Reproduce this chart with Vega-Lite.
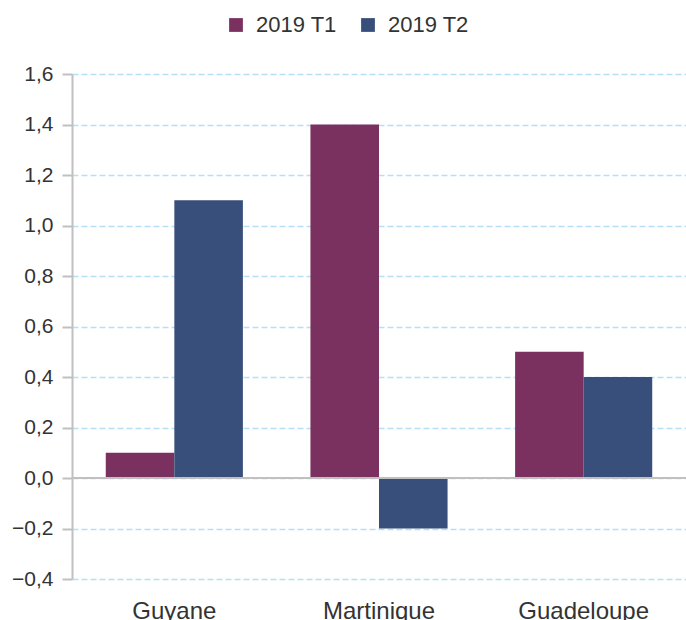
{
  "$schema": "https://vega.github.io/schema/vega-lite/v6.json",
  "width": 614,
  "height": 505,
  "autosize": {"type": "none"},
  "padding": {"left": 72, "top": 74, "right": 0, "bottom": 41},
  "background": "white",
  "config": {
    "view": {"stroke": null},
    "font": "Liberation Sans"
  },
  "data": {
    "values": [
      {"region": "Guyane", "period": "2019 T1", "value": 0.1},
      {"region": "Guyane", "period": "2019 T2", "value": 1.1},
      {"region": "Martinique", "period": "2019 T1", "value": 1.4},
      {"region": "Martinique", "period": "2019 T2", "value": -0.2},
      {"region": "Guadeloupe", "period": "2019 T1", "value": 0.5},
      {"region": "Guadeloupe", "period": "2019 T2", "value": 0.4}
    ]
  },
  "layer": [
    {
      "mark": {"type": "bar"},
      "encoding": {
        "x": {
          "field": "region",
          "type": "nominal",
          "sort": ["Guyane", "Martinique", "Guadeloupe"],
          "scale": {"paddingInner": 0.33, "paddingOuter": 0.165},
          "axis": {
            "title": null,
            "domain": false,
            "ticks": false,
            "tickSize": 0,
            "labelPadding": 20,
            "labelAngle": 0,
            "labelFontSize": 24,
            "labelColor": "#333333",
            "labelFont": "Liberation Sans"
          }
        },
        "xOffset": {
          "field": "period",
          "type": "nominal",
          "scale": {"paddingInner": 0, "paddingOuter": 0}
        },
        "y": {
          "field": "value",
          "type": "quantitative",
          "scale": {"domain": [-0.4, 1.6], "nice": false, "zero": false},
          "axis": {
            "title": null,
            "values": [-0.4, -0.2, 0, 0.2, 0.4, 0.6, 0.8, 1.0, 1.2, 1.4, 1.6],
            "labelExpr": "replace(format(datum.value, '.1f'), '.', ',')",
            "domainColor": "#c0c0c0",
            "domainWidth": 2,
            "tickColor": "#c0c0c0",
            "tickWidth": 2,
            "tickSize": 10,
            "labelPadding": 9,
            "labelFontSize": 21,
            "labelColor": "#333333",
            "labelFont": "Liberation Sans",
            "grid": true,
            "gridColor": "#b5e0f5",
            "gridDash": [6, 3],
            "gridWidth": 1.5
          }
        },
        "color": {
          "field": "period",
          "type": "nominal",
          "scale": {"domain": ["2019 T1", "2019 T2"], "range": ["#7b3160", "#374f7a"]},
          "legend": {
            "title": null,
            "orient": "none",
            "direction": "horizontal",
            "legendX": 153,
            "legendY": -60,
            "symbolType": "square",
            "symbolSize": 190,
            "symbolOpacity": 1,
            "labelFontSize": 22,
            "labelColor": "#333333",
            "labelFont": "Liberation Sans",
            "labelOffset": 9,
            "columnPadding": 20
          }
        }
      }
    },
    {
      "mark": {"type": "rule", "color": "#c0c0c0", "strokeWidth": 2},
      "encoding": {
        "y": {"datum": 0, "type": "quantitative"}
      }
    }
  ]
}
